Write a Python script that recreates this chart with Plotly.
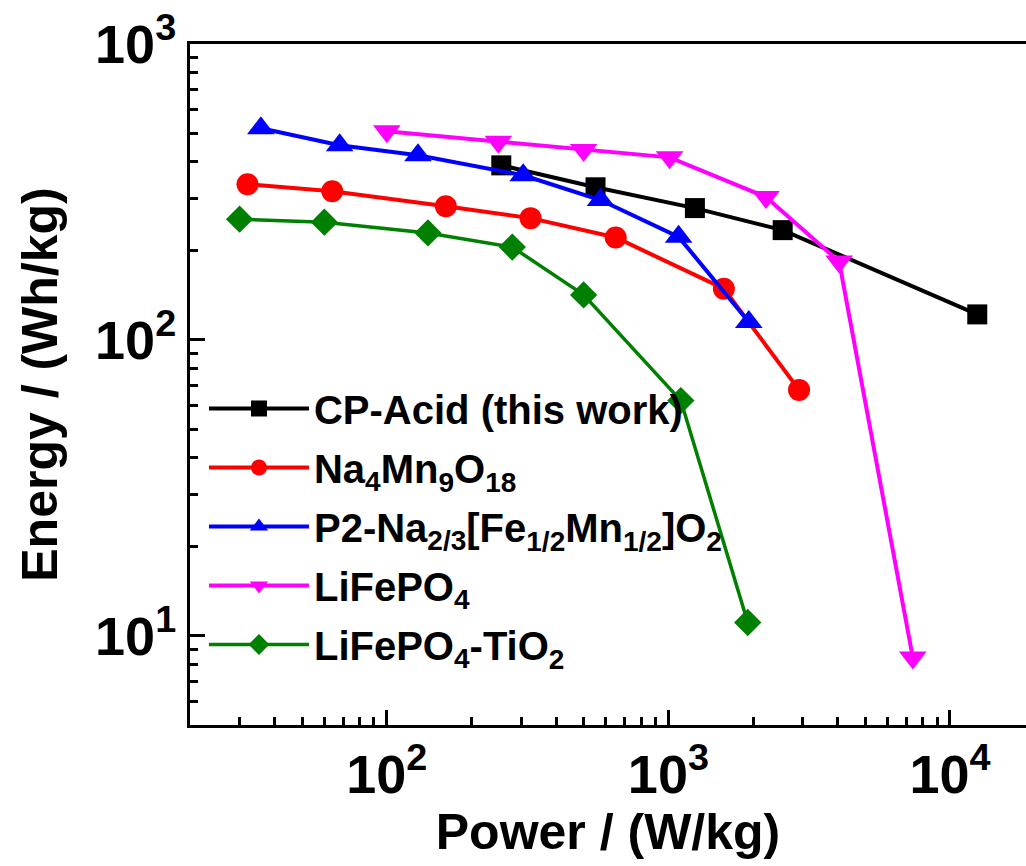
import plotly.graph_objects as go

# ---- data ----
names = ["CP-Acid (this work)",
         "Na<sub>4</sub>Mn<sub>9</sub>O<sub>18</sub>",
         "P2-Na<sub>2/3</sub>[Fe<sub>1/2</sub>Mn<sub>1/2</sub>]O<sub>2</sub>",
         "LiFePO<sub>4</sub>",
         "LiFePO<sub>4</sub>-TiO<sub>2</sub>"]

cp_power = [255, 551, 1242, 2546, 12500]
cp_energy = [389, 328, 279, 235, 122]

na_power = [32, 64, 162, 324, 650, 1574, 2910]
na_energy = [336, 318, 283, 258, 222, 149, 67.8]

p2_power = [35.7, 68, 129, 305, 574, 1087, 1930]
p2_energy = [519, 455, 421, 360, 297, 223, 115]

lfp_power = [100, 249, 500, 1010, 2220, 4040, 7380]
lfp_energy = [507, 467, 438, 414, 304, 184, 8.45]

lfpt_power = [30, 60, 140, 279, 500, 1107, 1913]
lfpt_energy = [256, 250, 230, 206, 142, 62.4, 11.1]

x_tickvals = [100, 1000, 10000]
x_ticktext = ["<b>10<sup>2</sup></b>", "<b>10<sup>3</sup></b>", "<b>10<sup>4</sup></b>"]
y_tickvals = [10, 100, 1000]
y_ticktext = ["<b>10<sup>1</sup></b>", "<b>10<sup>2</sup></b>", "<b>10<sup>3</sup></b>"]

colors = ["#000000", "#FF0000", "#0000FF", "#FF00FF", "#008000"]
symbols = ["square", "circle", "triangle-up", "triangle-down", "diamond"]
sizes = [20, 22, 24, 24, 21]
widths = [4, 4, 4, 4, 3.5]

series = [(cp_power, cp_energy), (na_power, na_energy), (p2_power, p2_energy),
          (lfp_power, lfp_energy), (lfpt_power, lfpt_energy)]

FONT = "Liberation Sans, Arial, sans-serif"

fig = go.Figure()
for i, (xs, ys) in enumerate(series):
    fig.add_trace(go.Scatter(
        x=xs, y=ys, mode="lines+markers", name="<b>" + names[i] + "</b>",
        line=dict(color=colors[i], width=widths[i]),
        marker=dict(symbol=symbols[i], size=sizes[i], color=colors[i], line=dict(width=0)),
        legendgroup=str(i),
    ))

axis_common = dict(
    type="log", showgrid=False, zeroline=False, automargin=False,
    showline=True, linecolor="black", linewidth=3,
    ticks="inside", ticklen=15, tickwidth=3, tickcolor="black",
    tickfont=dict(family=FONT, size=54, color="black"),
    minor=dict(ticks="inside", ticklen=8, tickwidth=2.5, tickcolor="black", dtick="D1", showgrid=False),
)

fig.update_xaxes(**axis_common, range=[1.30103, 4.27], mirror=True,
                 tickmode="array", tickvals=x_tickvals, ticktext=x_ticktext,
                 title=dict(text="<b>Power / (W/kg)</b>", font=dict(family=FONT, size=50, color="black"),
                            standoff=1))
fig.update_yaxes(**axis_common, range=[0.69897, 3.0], mirror=False,
                 tickmode="array", tickvals=y_tickvals, ticktext=y_ticktext,
                 title=dict(text="<b>Energy / (Wh/kg)</b>", font=dict(family=FONT, size=50, color="black"),
                            standoff=22))

fig.update_layout(
    width=1026, height=866,
    margin=dict(l=190, r=0, t=44, b=141, autoexpand=False),
    paper_bgcolor="white", plot_bgcolor="white",
    showlegend=True,
    legend=dict(x=0.0167, y=0.5125, xanchor="left", yanchor="top",
                font=dict(family=FONT, size=40, color="black"),
                bgcolor="rgba(0,0,0,0)", borderwidth=0,
                tracegroupgap=4, itemwidth=100),
)

fig.write_html("out.html", config={"displayModeBar": False},
               post_script="document.body.style.margin='0px';document.body.style.overflow='hidden';")
